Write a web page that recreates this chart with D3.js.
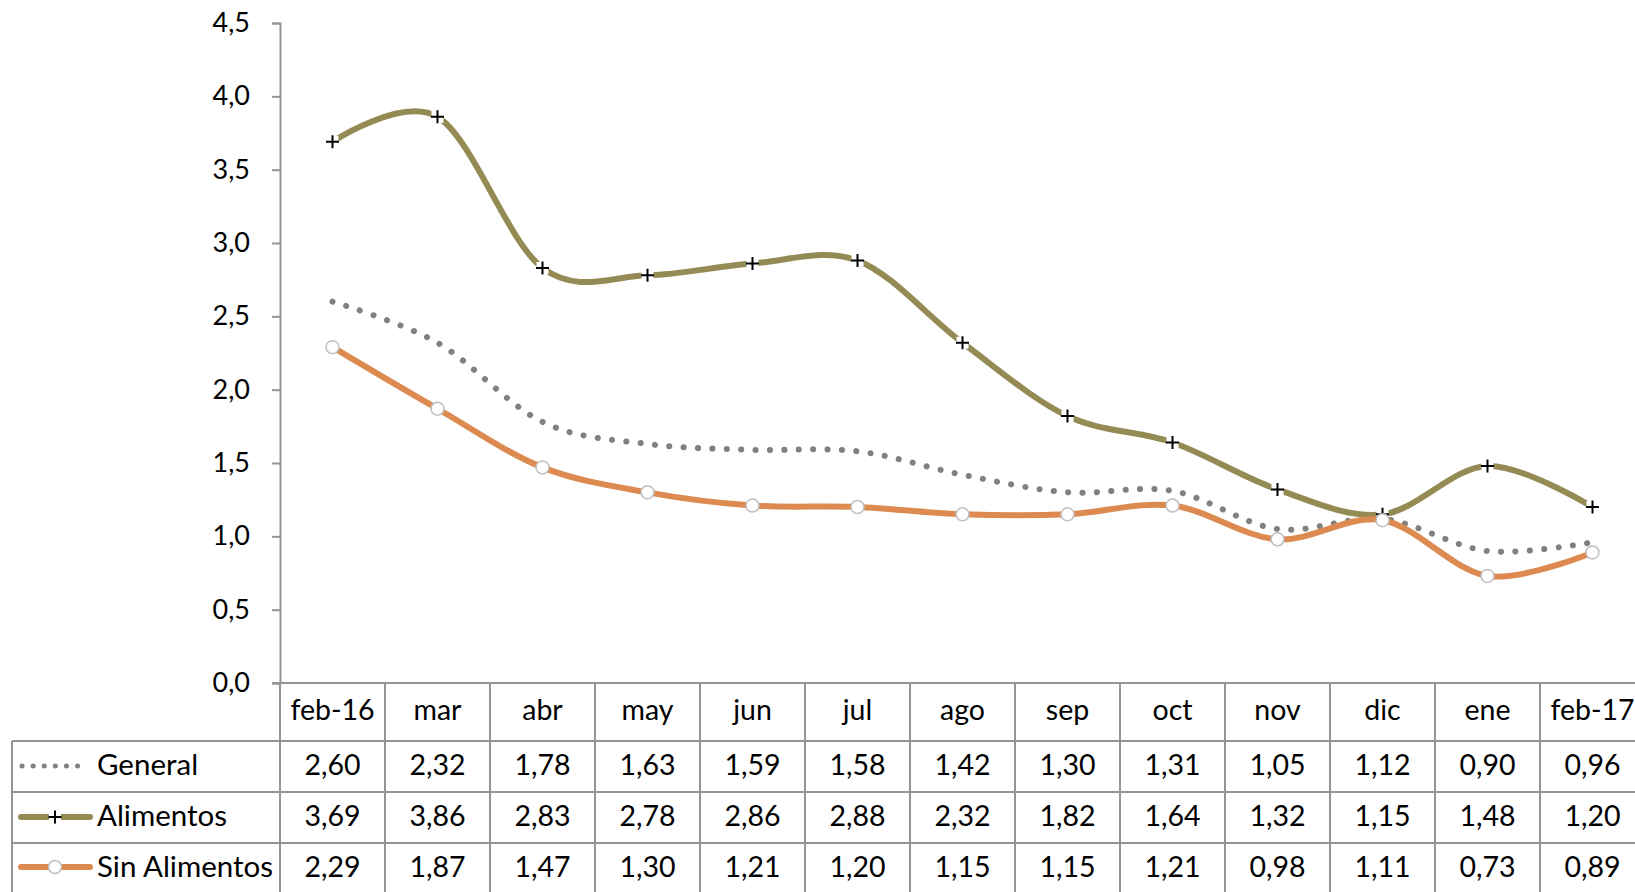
<!DOCTYPE html>
<html>
<head>
<meta charset="utf-8">
<script src="https://cdn.jsdelivr.net/npm/d3@7/dist/d3.min.js"></script>
<style>
  body { margin: 0; background: #fff; }
  svg { display: block; font-family: Lato, "Open Sans", sans-serif; }
</style>
</head>
<body>
<div id="chart"></div>
<script>
// data
const months = ["feb-16", "mar", "abr", "may", "jun", "jul", "ago", "sep", "oct", "nov", "dic", "ene", "feb-17"];
const general = [2.60, 2.32, 1.78, 1.63, 1.59, 1.58, 1.42, 1.30, 1.31, 1.05, 1.12, 0.90, 0.96];
const alimentos = [3.69, 3.86, 2.83, 2.78, 2.86, 2.88, 2.32, 1.82, 1.64, 1.32, 1.15, 1.48, 1.20];
const sinAlimentos = [2.29, 1.87, 1.47, 1.30, 1.21, 1.20, 1.15, 1.15, 1.21, 0.98, 1.11, 0.73, 0.89];
const yTicks = [0, 0.5, 1, 1.5, 2, 2.5, 3, 3.5, 4, 4.5];

const WIDTH = 1635, HEIGHT = 892;
const gridColor = "#959595";
const fmt = v => d3.format(".2f")(v).replace(".", ",");
const fmtTick = v => d3.format(".1f")(v).replace(".", ",");

const svg = d3.select("#chart").append("svg")
  .attr("width", WIDTH)
  .attr("height", HEIGHT);

const x = d3.scaleBand().domain(months).range([280, 280 + 105 * months.length]);
const y = d3.scaleLinear().domain([0, 4.5]).range([683, 23]);
const cx = m => x(m) + x.bandwidth() / 2;

// y axis
const yAxis = svg.append("g")
  .attr("transform", "translate(280,0)")
  .call(d3.axisLeft(y).tickValues(yTicks).tickSize(8).tickPadding(22).tickFormat(fmtTick));
yAxis.select(".domain").attr("stroke", gridColor).attr("stroke-width", 2);
yAxis.selectAll(".tick line").attr("stroke", gridColor).attr("stroke-width", 2);
yAxis.selectAll(".tick text")
  .attr("font-size", 27)
  .attr("fill", "#000")
  .attr("font-family", "Lato, 'Open Sans', sans-serif");

// data table grid
const rowTops = [683, 741, 792, 843];
const grid = svg.append("g").attr("stroke", gridColor).attr("stroke-width", 2);
grid.append("line").attr("x1", 272).attr("x2", WIDTH).attr("y1", 683).attr("y2", 683);
rowTops.slice(1).forEach(t => {
  grid.append("line").attr("x1", 12).attr("x2", WIDTH).attr("y1", t).attr("y2", t);
});
grid.append("line").attr("x1", 12).attr("x2", 12).attr("y1", 741).attr("y2", HEIGHT);
grid.append("line").attr("x1", 280).attr("x2", 280).attr("y1", 683).attr("y2", HEIGHT);
months.forEach(m => {
  grid.append("line")
    .attr("x1", x(m) + x.bandwidth()).attr("x2", x(m) + x.bandwidth())
    .attr("y1", 683).attr("y2", HEIGHT);
});

// header + values
const tableText = svg.append("g").attr("font-size", 28.5).attr("text-anchor", "middle").attr("fill", "#000");
tableText.selectAll(".hdr").data(months).join("text")
  .attr("x", cx).attr("y", 720).text(d => d);

const rows = [
  { name: "General", values: general },
  { name: "Alimentos", values: alimentos },
  { name: "Sin Alimentos", values: sinAlimentos }
];
rows.forEach((r, i) => {
  const base = rowTops[i + 1] + 34;
  tableText.selectAll(".v" + i).data(r.values).join("text")
    .attr("x", (d, j) => cx(months[j]))
    .attr("y", base)
    .text(fmt);
  svg.append("text")
    .attr("x", 97).attr("y", base)
    .attr("font-size", 29.5)
    .text(r.name);
});

// lines
const line = d3.line()
  .x((d, i) => cx(months[i]))
  .y(d => y(d))
  .curve(d3.curveCatmullRom.alpha(0));

svg.append("path")
  .attr("d", line(general))
  .attr("fill", "none")
  .attr("stroke", "#808080")
  .attr("stroke-width", 6)
  .attr("stroke-linecap", "round")
  .attr("stroke-dasharray", "0.1 14.3");

svg.append("path")
  .attr("d", line(alimentos))
  .attr("fill", "none")
  .attr("stroke", "#948a54")
  .attr("stroke-width", 6);

const plus = (g, px, py, s) => {
  g.append("rect").attr("x", px - 6).attr("y", py - 6).attr("width", 12).attr("height", 12).attr("fill", "#fff");
  g.append("path")
    .attr("d", `M${px - s},${py}H${px + s}M${px},${py - s}V${py + s}`)
    .attr("stroke", "#000").attr("stroke-width", 2);
};
const plusG = svg.append("g");
alimentos.forEach((v, i) => plus(plusG, cx(months[i]), y(v), 6.5));

svg.append("path")
  .attr("d", line(sinAlimentos))
  .attr("fill", "none")
  .attr("stroke", "#dc8a50")
  .attr("stroke-width", 6);

svg.append("g").selectAll("circle").data(sinAlimentos).join("circle")
  .attr("cx", (d, i) => cx(months[i]))
  .attr("cy", d => y(d))
  .attr("r", 6.5)
  .attr("fill", "#fff")
  .attr("stroke", "#bfbfbf")
  .attr("stroke-width", 1.5);

// legend keys in the table
const ky = [766, 817, 867];
svg.append("line")
  .attr("x1", 22).attr("x2", 78).attr("y1", ky[0]).attr("y2", ky[0])
  .attr("stroke", "#808080").attr("stroke-width", 5)
  .attr("stroke-linecap", "round").attr("stroke-dasharray", "0.1 11");
svg.append("line")
  .attr("x1", 21).attr("x2", 90).attr("y1", ky[1]).attr("y2", ky[1])
  .attr("stroke", "#948a54").attr("stroke-width", 6).attr("stroke-linecap", "round");
plus(svg.append("g"), 55, ky[1], 6.5);
svg.append("line")
  .attr("x1", 21).attr("x2", 90).attr("y1", ky[2]).attr("y2", ky[2])
  .attr("stroke", "#dc8a50").attr("stroke-width", 6).attr("stroke-linecap", "round");
svg.append("circle")
  .attr("cx", 55).attr("cy", ky[2]).attr("r", 6.5)
  .attr("fill", "#fff").attr("stroke", "#bfbfbf").attr("stroke-width", 1.5);
</script>
</body>
</html>
